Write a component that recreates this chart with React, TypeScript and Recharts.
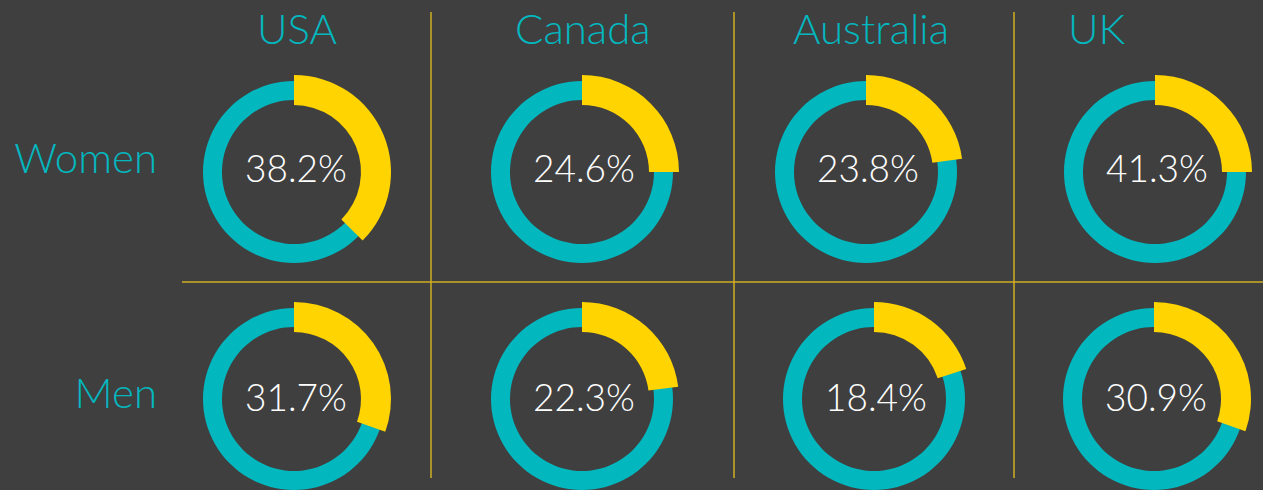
import { PieChart, Pie, Cell, Label } from 'recharts';

// categories
const countries = ['USA', 'Canada', 'Australia', 'UK'];
const groups = ['Women', 'Men'];

// printed shares (%)
const womenShare = [38.2, 24.6, 23.8, 41.3];
const menShare = [31.7, 22.3, 18.4, 30.9];

// share covered by the yellow arc, as drawn in the picture (%)
const womenArc = [37.5, 25, 22.8, 25];
const menArc = [30.5, 23, 20, 30.4];

const TEAL = '#03b7bf';
const YELLOW = '#ffd400';
const BG = '#3f3f3f';
const GRID = '#cfae22';
const FONT = 'Lato, "Open Sans", sans-serif';

// layout
const W = 1263;
const H = 490;
const centersX = [
  [294, 582, 866, 1155],
  [294, 582, 874, 1154],
];
const centersY = [172, 399];
const textDy = [-5, -3];
const headerX = [257, 515, 793, 1068];

const rows = [
  { label: groups[0], share: womenShare, arc: womenArc },
  { label: groups[1], share: menShare, arc: menArc },
];

export default function App() {
  return (
    <div style={{ position: 'fixed', left: 0, top: 0, width: W, height: H, background: BG }}>
      <PieChart
        width={W}
        height={H}
        margin={{ top: 0, right: 0, bottom: 0, left: 0 }}
        style={{ position: 'absolute', left: 0, top: 0 }}
      >
        {rows.flatMap((row, r) =>
          countries.map((c, i) => (
            <Pie
              key={`ring-${r}-${i}`}
              data={[{ name: c, value: 100 }]}
              dataKey="value"
              cx={centersX[r][i]}
              cy={centersY[r]}
              innerRadius={72}
              outerRadius={91}
              startAngle={90}
              endAngle={-270}
              stroke="none"
              fill={TEAL}
              isAnimationActive={false}
            />
          ))
        )}
        {rows.flatMap((row, r) =>
          countries.map((c, i) => (
            <Pie
              key={`arc-${r}-${i}`}
              data={[
                { name: row.label, value: row.arc[i] },
                { name: 'rest', value: 100 - row.arc[i] },
              ]}
              dataKey="value"
              cx={centersX[r][i]}
              cy={centersY[r]}
              innerRadius={67}
              outerRadius={97}
              startAngle={90}
              endAngle={-270}
              stroke="none"
              isAnimationActive={false}
            >
              <Cell fill={YELLOW} />
              <Cell fill="transparent" />
              <Label
                position="center"
                content={() => (
                  <text
                    x={centersX[r][i] + 2}
                    y={centersY[r] + textDy[r]}
                    textAnchor="middle"
                    dominantBaseline="central"
                    fill="#ffffff"
                    fontFamily={FONT}
                    fontWeight={300}
                    fontSize={37}
                  >
                    {row.share[i].toFixed(1)}%
                  </text>
                )}
              />
            </Pie>
          ))
        )}
      </PieChart>
      <svg
        width={W}
        height={H}
        style={{ position: 'absolute', left: 0, top: 0, pointerEvents: 'none' }}
      >
        <line x1={431} y1={12} x2={431} y2={478} stroke={GRID} strokeWidth={1.5} />
        <line x1={734} y1={12} x2={734} y2={478} stroke={GRID} strokeWidth={1.5} />
        <line x1={1014} y1={12} x2={1014} y2={478} stroke={GRID} strokeWidth={1.5} />
        <line x1={182} y1={282} x2={W} y2={282} stroke={GRID} strokeWidth={1.5} />
        {countries.map((c, i) => (
          <text
            key={c}
            x={headerX[i]}
            y={44}
            fill={TEAL}
            fontFamily={FONT}
            fontWeight={300}
            fontSize={42}
          >
            {c}
          </text>
        ))}
        <text x={157} y={173} textAnchor="end" fill={TEAL} fontFamily={FONT} fontWeight={300} fontSize={42}>
          {groups[0]}
        </text>
        <text x={157} y={408} textAnchor="end" fill={TEAL} fontFamily={FONT} fontWeight={300} fontSize={42}>
          {groups[1]}
        </text>
      </svg>
    </div>
  );
}
